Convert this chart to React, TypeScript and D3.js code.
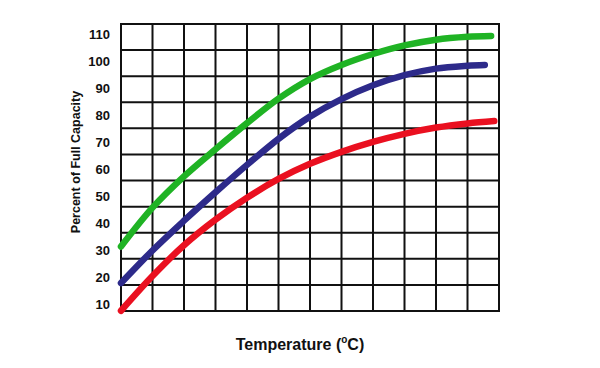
import * as d3 from "d3";

// temperature steps (grid columns) - the chart has no x tick labels
const steps = [0, 1, 2, 3, 4, 5, 6, 7, 8, 9, 10, 11];

const greenX = [...steps, 11.75];
const greenValues = [29.7, 44.6, 56.6, 67.0, 77.0, 86.4, 93.9, 99.3, 103.5, 106.8, 109.0, 110.1, 110.4];

const blueX = [...steps, 11.55];
const blueValues = [15.7, 28.2, 39.6, 50.5, 61.0, 71.0, 79.5, 86.2, 91.5, 95.4, 97.9, 99.0, 99.3];

const redX = [...steps, 11.85];
const redValues = [5.1, 18.4, 30.2, 40.0, 48.4, 55.6, 61.4, 66.0, 69.8, 72.9, 75.3, 76.9, 77.8];

const tickLabels = [10, 20, 30, 40, 50, 60, 70, 80, 90, 100, 110];
const gridRows = [5, 15, 25, 35, 45, 55, 65, 75, 85, 95, 105, 115];
const gridCols = [0, 1, 2, 3, 4, 5, 6, 7, 8, 9, 10, 11, 12];

const series = [
  { name: "green", xs: greenX, values: greenValues, color: "#1fb324" },
  { name: "blue", xs: blueX, values: blueValues, color: "#2d2a8a" },
  { name: "red", xs: redX, values: redValues, color: "#ea1020" },
];

const font = "'Liberation Sans', Arial, sans-serif";

export default function App() {
  const x = d3.scaleLinear().domain([0, 12]).range([121, 499]);
  const y = d3.scaleLinear().domain([5, 115]).range([311, 24]);
  // labels sit a little off the grid rows in the original
  const yLabel = y.copy().range([318, 21]);

  const line = d3
    .line<[number, number]>()
    .x((d) => x(d[0]))
    .y((d) => y(d[1]))
    .curve(d3.curveCatmullRom.alpha(0.5));

  return (
    <svg
      width={600}
      height={368}
      style={{ position: "absolute", left: 0, top: 0, background: "white" }}
    >
      <rect width={600} height={368} fill="white" />
      {gridRows.map((v) => (
        <line
          key={"r" + v}
          x1={x(0) - 1}
          x2={x(12) + 1}
          y1={y(v)}
          y2={y(v)}
          stroke="#111"
          strokeWidth={2}
        />
      ))}
      {gridCols.map((c) => (
        <line
          key={"c" + c}
          x1={x(c)}
          x2={x(c)}
          y1={y(115) - 1}
          y2={y(5) + 1}
          stroke="#111"
          strokeWidth={2}
        />
      ))}

      {series.map((s) => (
        <path
          key={s.name}
          d={line(s.xs.map((xv, i) => [xv, s.values[i]] as [number, number])) || ""}
          fill="none"
          stroke={s.color}
          strokeWidth={6.5}
          strokeLinecap="round"
          strokeLinejoin="round"
        />
      ))}

      {tickLabels.map((t) => (
        <text
          key={t}
          x={110}
          y={yLabel(t)}
          dy="0.36em"
          fontSize={13}
          fontWeight="bold"
          fontFamily={font}
          textAnchor="end"
          fill="#111"
        >
          {t}
        </text>
      ))}

      <text
        transform="translate(80,162) rotate(-90)"
        fontSize={12.5}
        fontWeight="bold"
        fontFamily={font}
        textAnchor="middle"
        fill="#111"
      >
        Percent of Full Capacity
      </text>

      <text
        x={300}
        y={350}
        fontSize={16}
        fontWeight="bold"
        fontFamily={font}
        textAnchor="middle"
        fill="#111"
      >
        Temperature (
        <tspan fontSize={10} dy={-7}>
          o
        </tspan>
        <tspan dy={7}>C)</tspan>
      </text>
    </svg>
  );
}
